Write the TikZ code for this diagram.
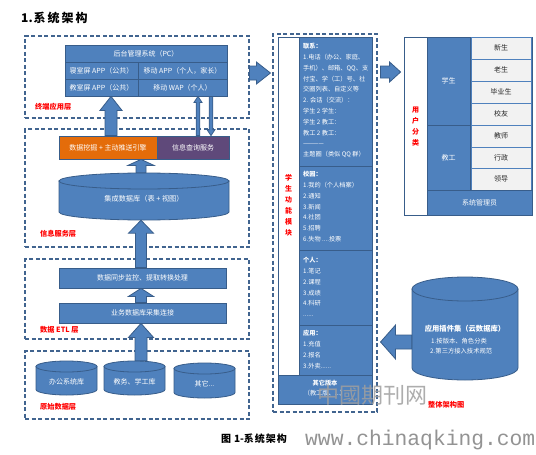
\documentclass[tikz,border=0pt]{standalone}
\usepackage{fontspec}
\setmainfont{Noto Sans CJK SC}
\newfontfamily\wmfont{Liberation Mono}
\usetikzlibrary{calc}
\definecolor{blu}{HTML}{4F81BD}
\definecolor{bord}{HTML}{385D8A}
\definecolor{orng}{HTML}{E46C0A}
\definecolor{purp}{HTML}{5F497A}
\definecolor{cellg}{HTML}{F2F2F2}
\definecolor{dashc}{HTML}{41648F}
\definecolor{redl}{HTML}{FF0000}
\newcommand\myfs[1]{\fontsize{#1}{#1}\selectfont}
\tikzset{
 bx/.style={draw=bord, fill=blu, text=white, line width=0.8pt, inner sep=0pt, font=\myfs{7}},
 wbx/.style={draw=bord, fill=white, line width=0.8pt, inner sep=0pt},
 dbox/.style={draw=dashc, dash pattern=on 4pt off 2.5pt, line width=1.1pt, inner sep=0pt},
 cell/.style={draw=blu, fill=cellg, text=black!85, line width=0.8pt, inner sep=0pt, font=\myfs{7}},
 lbl/.style={text=redl, font=\bfseries\myfs{7.2}, anchor=west, inner sep=0pt},
 cylst/.style={draw=bord, fill=blu, line width=0.8pt},
 barrow/.style={draw=bord, fill=blu, line width=0.8pt},
 sect/.style={anchor=north west, align=left, inner sep=0pt, text=white, font={\fontsize{6.2}{10.8}\selectfont}},
 vtxt/.style={text=redl, font={\bfseries\fontsize{7}{11}\selectfont}, align=center, inner sep=0pt},
 wtxt/.style={text=white, inner sep=0pt},
}
% box by corners
\newcommand\boxat[7]{%
 \pgfmathsetmacro\bxw{#5-#3}\pgfmathsetmacro\bxh{#6-#4}%
 \pgfmathsetmacro\bxcx{(#3+#5)/2}\pgfmathsetmacro\bxcy{(#4+#6)/2}%
 \node[#1, minimum width=\bxw pt, minimum height=\bxh pt] (#2) at (\bxcx,\bxcy) {#7};}
% cylinder: name, x1, ytop, x2, ybot, ry
\newcommand\cylat[6]{%
 \pgfmathsetmacro\cyrx{(#4-#2)/2}\pgfmathsetmacro\cycx{(#2+#4)/2}%
 \pgfmathsetmacro\cyya{#3+#6}\pgfmathsetmacro\cyyb{#5-#6}%
 \pgfmathsetmacro\cycy{(#3+#5)/2}\pgfmathsetmacro\cyh{#5-#3}\pgfmathsetmacro\cyw{#4-#2}%
 \filldraw[cylst] (#2,\cyya) -- (#2,\cyyb) arc[start angle=180, end angle=360, x radius=\cyrx pt, y radius=#6pt] -- (#4,\cyya) -- cycle;
 \filldraw[cylst] (\cycx,\cyya) ellipse[x radius=\cyrx pt, y radius=#6pt];
 \node[minimum width=\cyw pt, minimum height=\cyh pt, inner sep=0pt] (#1) at (\cycx,\cycy) {};}
% vertical block arrow: tail, tip, shaft half, head half, head length, sign (1 up, -1 down)
\newcommand\vblock[6]{%
 \draw[barrow] let \p1=(#1), \p2=(#2) in
  (\x2,\y2) -- ({\x2+#4pt},{\y2-(#6)*#5pt}) -- ({\x2+#3pt},{\y2-(#6)*#5pt}) -- ({\x2+#3pt},{\y1})
  -- ({\x2-#3pt},{\y1}) -- ({\x2-#3pt},{\y2-(#6)*#5pt}) -- ({\x2-#4pt},{\y2-(#6)*#5pt}) -- cycle;}
% horizontal block arrow: sign 1 right, -1 left
\newcommand\hblock[6]{%
 \draw[barrow] let \p1=(#1), \p2=(#2) in
  (\x2,\y2) -- ({\x2-(#6)*#5pt},{\y2+#4pt}) -- ({\x2-(#6)*#5pt},{\y2+#3pt}) -- ({\x1},{\y2+#3pt})
  -- ({\x1},{\y2-#3pt}) -- ({\x2-(#6)*#5pt},{\y2-#3pt}) -- ({\x2-(#6)*#5pt},{\y2-#4pt}) -- cycle;}
\begin{document}
\begin{tikzpicture}[x=1pt,y=-1pt]
\fill[white] (0,0) rectangle (536,455);
\useasboundingbox (0,0) rectangle (536,455);
% title
\node[anchor=west, inner sep=0pt, font=\bfseries\myfs{12}] (title) at (21,18) {1.\hspace{1pt}系\hspace{2pt}统\hspace{2pt}架\hspace{2pt}构};
% ---------- terminal layer
\node[dbox, minimum width=224pt, minimum height=82pt] (termbox) at (137,77) {};
\boxat{bx}{pc}{65}{45}{227}{62}{后台管理系统（PC）}
\boxat{bx}{r2l}{65}{62}{138}{79}{寝室屏 APP（公共）}
\boxat{bx}{r2r}{138}{62}{227}{79}{移动 APP（个人，家长）}
\boxat{bx}{r3l}{65}{79}{138}{96}{教室屏 APP（公共）}
\boxat{bx}{r3r}{138}{79}{227}{96}{移动 WAP（个人）}
\node[lbl] (lterm) at (35,107) {终端应用层};
% ---------- info layer
\node[dbox, minimum width=224pt, minimum height=118pt] (infobox) at (137,188) {};
\boxat{bx, fill=orng}{mine}{59}{136}{157}{159}{数据挖掘 + 主动推送引擎}
\boxat{bx, fill=purp}{query}{157}{136}{229}{159}{信息查询服务}
\cylat{intdb}{59}{173}{229}{220}{8}
\node[wtxt, font=\myfs{7.2}] (intdbt) at (144,199) {集成数据库（表 + 视图）};
\node[lbl] (linfo) at (40,234) {信息服务层};
% ---------- ETL layer
\node[dbox, minimum width=224pt, minimum height=80pt] (etlbox) at (137,299) {};
\boxat{bx}{sync}{59}{268}{226}{288}{数据同步监控、提取转换处理}
\boxat{bx}{coll}{59}{303}{226}{323}{业务数据库采集连接}
\node[lbl] (letl) at (40,330) {数据 ETL 层};
% ---------- raw layer
\node[dbox, minimum width=224pt, minimum height=68pt] (rawbox) at (137,385) {};
\cylat{db1}{36}{361}{97}{395}{5.5}
\cylat{db2}{104}{361}{165}{395}{5.5}
\cylat{db3}{174}{363}{235}{398}{5.5}
\node[wtxt, font=\myfs{7}] (db1t) at (66.5,382) {办公系统库};
\node[wtxt, font=\myfs{7}] (db2t) at (134.5,382) {教务、学工库};
\node[wtxt, font=\myfs{7}] (db3t) at (204.5,384) {其它...};
\node[lbl] (lraw) at (40,407) {原始数据层};
% ---------- vertical arrows
\coordinate (u1) at (111,0);
\coordinate (uc) at (141,0);
\coordinate (t1) at (198,0);
\coordinate (t2) at (211,0);
\vblock{mine.north -| u1}{r3l.south -| u1}{6}{11}{14}{1}
\vblock{query.north -| t1}{r3r.south -| t1}{1.8}{4}{6}{1}
\vblock{r3r.south -| t2}{query.north -| t2}{1.8}{4}{6}{-1}
\vblock{intdb.north -| uc}{mine.south -| uc}{5}{13}{6}{1}
\vblock{sync.north -| uc}{intdb.south -| uc}{5.5}{12.5}{13}{1}
\vblock{coll.north -| uc}{sync.south -| uc}{5.5}{12.5}{8}{1}
\vblock{db2.north -| uc}{coll.south -| uc}{6}{12.5}{14}{1}
% ---------- middle column
\node[dbox, minimum width=104pt, minimum height=378pt] (midbox) at (325,223) {};
\boxat{wbx}{wcol}{278}{37}{299}{375}{}
\node[vtxt] (wcoltxt) at (288.5,205.5) {学\\生\\功\\能\\模\\块};
\boxat{bx}{sa}{299}{37}{372}{166}{}
\boxat{bx}{sb}{299}{166}{372}{250}{}
\boxat{bx}{sc}{299}{250}{372}{325}{}
\boxat{bx}{sd}{299}{325}{372}{375}{}
\boxat{bx}{other}{278}{375}{372}{404}{}
\node[sect] (sat) at (303,43.2) {\textbf{联系：}\\1.电话（办公、家庭、\\手机）、邮箱、QQ、支\\付宝、学（工）号、社\\交圈列表、自定义等\\2. 会话（交流）：\\学生 2 学生：\\学生 2 教工：\\教工 2 教工：\\------------\\主题圈（类似 QQ 群）};
\node[sect] (sbt) at (303,171.2) {\textbf{校园：}\\1.我的（个人档案）\\2.通知\\3.新闻\\4.社团\\5.招聘\\6.失物 ....投票};
\node[sect] (sct) at (303,257.2) {\textbf{个人：}\\1.笔记\\2.课程\\3.成绩\\4.科研\\......};
\node[sect] (sdt) at (303,330.2) {\textbf{应用：}\\1.充值\\2.报名\\3.外卖......};
\node[wtxt, align=center, font={\fontsize{6.2}{10}\selectfont}] (othert) at (325,388.5) {\textbf{其它版本}\\（教工版、...）};
% ---------- user classification
\boxat{wbx}{userbox}{404}{37}{532}{215}{}
\node[vtxt] (usertxt) at (415.5,126.5) {用\\户\\分\\类};
\boxat{bx}{stu}{427}{37}{470}{125}{学生}
\boxat{bx}{stf}{427}{125}{470}{190}{教工}
\boxat{cell}{c1}{471}{37}{531}{59}{新生}
\boxat{cell}{c2}{471}{59}{531}{81}{老生}
\boxat{cell}{c3}{471}{81}{531}{103}{毕业生}
\boxat{cell}{c4}{471}{103}{531}{125}{校友}
\boxat{cell}{c5}{471}{125}{531}{147}{教师}
\boxat{cell}{c6}{471}{147}{531}{168}{行政}
\boxat{cell}{c7}{471}{168}{531}{190}{领导}
\boxat{bx}{adm}{427}{190}{532}{215}{系统管理员}
% ---------- cloud database
\cylat{cloud}{412}{277}{518}{380}{12}
\node[wtxt, font=\bfseries\myfs{7.3}] (cloudt) at (465,329) {应用插件集（云数据库）};
\node[wtxt, anchor=west, font=\myfs{6.3}] (cloud1) at (431,341) {1.按版本、角色分类};
\node[wtxt, anchor=west, font=\myfs{6.3}] (cloud2) at (430,351) {2.第三方接入技术规范};
% ---------- horizontal arrows
\coordinate (a1) at (0,73);
\coordinate (a2) at (0,72);
\coordinate (a3) at (0,342);
\hblock{termbox.east |- a1}{$(midbox.west |- a1)+(-2,0)$}{7}{11}{14}{1}
\hblock{$(midbox.east |- a2)+(3,0)$}{$(userbox.west |- a2)+(-3,0)$}{6}{10}{11}{1}
\hblock{cloud.west |- a3}{$(midbox.east |- a3)+(3,0)$}{7}{17}{15}{-1}
% ---------- watermarks and captions
\node[text=gray!75, opacity=0.85, inner sep=0pt, font=\myfs{22}] (wm1) at (372,395) {中國期刊网};
\node[lbl] (lall) at (428,405) {整体架构图};
\node[inner sep=0pt, font=\bfseries\myfs{10}] (caption) at (254,439) {图\hspace{3pt}1-系\hspace{1pt}统\hspace{1pt}架\hspace{1pt}构};
\node[anchor=west, inner sep=0pt, text=gray!85, font=\wmfont\myfs{21.3}] (wm2) at (305,440) {www.chinaqking.com};
\end{tikzpicture}
\end{document}
